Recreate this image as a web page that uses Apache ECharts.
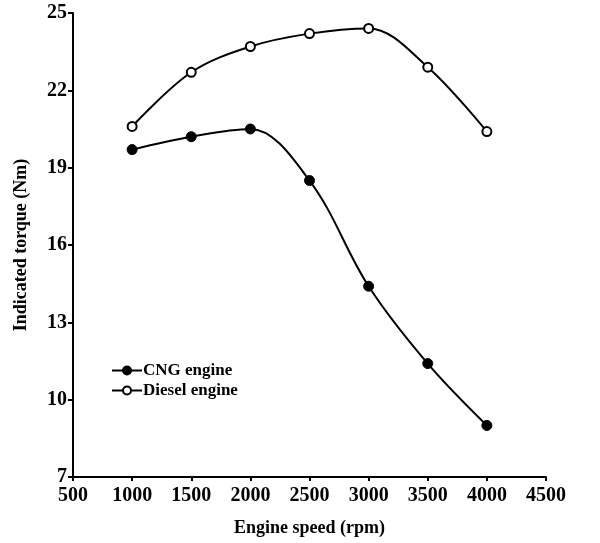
<!DOCTYPE html>
<html>
<head>
<meta charset="utf-8">
<script src="https://cdn.jsdelivr.net/npm/echarts@6/dist/echarts.min.js"></script>
<style>
  html, body { margin: 0; padding: 0; background: #fff; }
  #main { width: 600px; height: 543px; }
</style>
</head>
<body>
<div id="main"></div>
<script>
// Engine speed (rpm)
var speeds = [1000, 1500, 2000, 2500, 3000, 3500, 4000];

// Indicated torque (Nm)
var cngTorque = [19.7, 20.2, 20.5, 18.5, 14.4, 11.4, 9.0];
var dieselTorque = [20.6, 22.7, 23.7, 24.2, 24.4, 22.9, 20.4];

var font = 'Liberation Serif';

function pairs(xs, ys) {
    return xs.map(function (x, i) { return [x, ys[i]]; });
}

var myChart = echarts.init(document.getElementById('main'));

var option = {
    animation: false,
    backgroundColor: '#fff',
    grid: {
        left: 73,
        right: 54,
        top: 13,
        bottom: 66
    },
    legend: {
        orient: 'vertical',
        left: 106,
        top: 357,
        itemGap: 3,
        itemWidth: 30,
        itemHeight: 10,
        textStyle: {
            fontFamily: font,
            fontWeight: 'bold',
            fontSize: 17,
            color: '#000',
            padding: [0, 0, 0, -4]
        },
        data: ['CNG engine', 'Diesel engine']
    },
    xAxis: {
        type: 'value',
        min: 500,
        max: 4500,
        interval: 500,
        name: 'Engine speed (rpm)',
        nameLocation: 'middle',
        nameGap: 42,
        nameTextStyle: { fontFamily: font, fontWeight: 'bold', fontSize: 18, color: '#000' },
        axisLine: { lineStyle: { color: '#000', width: 2 } },
        axisTick: { length: 4, lineStyle: { color: '#000', width: 2 } },
        axisLabel: {
            fontFamily: font, fontWeight: 'bold', fontSize: 20, color: '#000', margin: 9,
            formatter: function (v) { return String(v); }
        },
        splitLine: { show: false }
    },
    yAxis: {
        type: 'value',
        min: 7,
        max: 25,
        interval: 3,
        name: 'Indicated torque (Nm)',
        nameLocation: 'middle',
        nameGap: 43,
        nameTextStyle: { fontFamily: font, fontWeight: 'bold', fontSize: 18, color: '#000' },
        axisLine: { show: true, lineStyle: { color: '#000', width: 2 } },
        axisTick: { show: true, length: 5, lineStyle: { color: '#000', width: 2 } },
        axisLabel: { fontFamily: font, fontWeight: 'bold', fontSize: 20, color: '#000', margin: 6 },
        splitLine: { show: false }
    },
    series: [
        {
            name: 'CNG engine',
            type: 'line',
            smooth: 0.35,
            data: pairs(speeds, cngTorque),
            symbol: 'circle',
            symbolSize: 10,
            itemStyle: { color: '#000', borderColor: '#000', borderWidth: 1 },
            lineStyle: { color: '#000', width: 2 }
        },
        {
            name: 'Diesel engine',
            type: 'line',
            smooth: 0.35,
            data: pairs(speeds, dieselTorque),
            symbol: 'circle',
            symbolSize: 9,
            itemStyle: { color: '#fff', borderColor: '#000', borderWidth: 2 },
            lineStyle: { color: '#000', width: 2 }
        }
    ]
};

myChart.setOption(option);
</script>
</body>
</html>
